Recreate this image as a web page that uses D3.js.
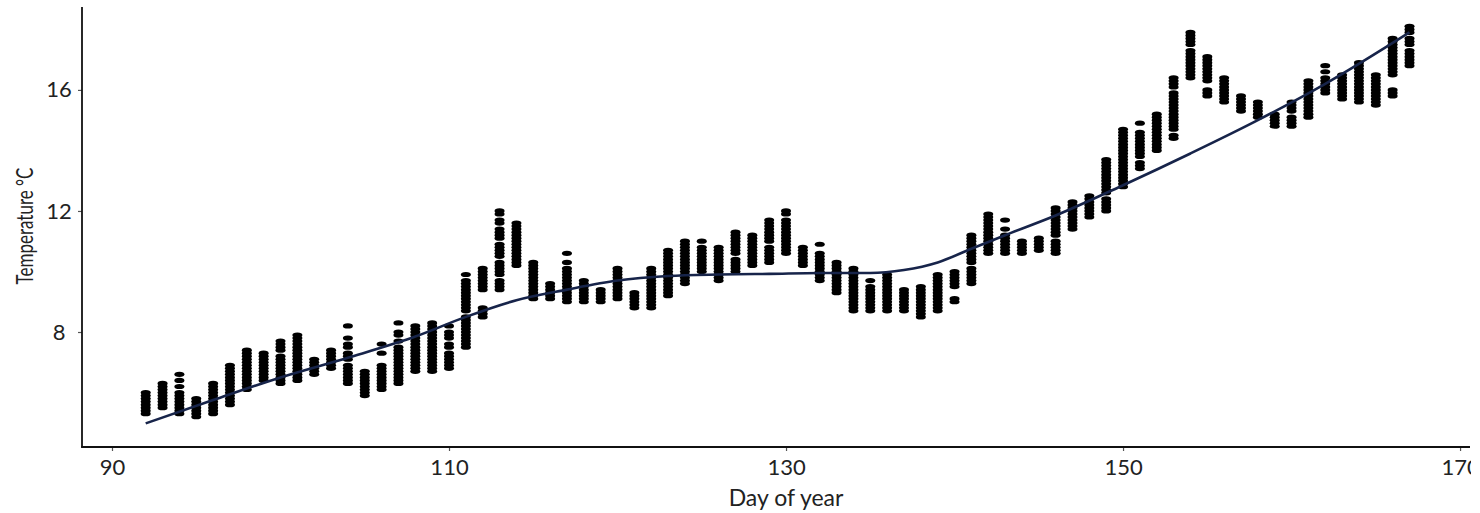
<!DOCTYPE html>
<html>
<head>
<meta charset="utf-8">
<script src="https://cdn.jsdelivr.net/npm/d3@7"></script>
<style>
  html, body { margin: 0; padding: 0; background: #fff; }
  svg { display: block; }
  text { font-family: Lato, "Liberation Sans", sans-serif; fill: #222; }
</style>
</head>
<body>
<svg id="chart" width="1480" height="513"></svg>
<script>
// Day of year for each logged day
const days = [92, 93, 94, 95, 96, 97, 98, 99, 100, 101, 102, 103, 104, 105, 106, 107, 108, 109,
  110, 111, 112, 113, 114, 115, 116, 117, 118, 119, 120, 121, 122, 123, 124, 125, 126, 127,
  128, 129, 130, 131, 132, 133, 134, 135, 136, 137, 138, 139, 140, 141, 142, 143, 144, 145,
  146, 147, 148, 149, 150, 151, 152, 153, 154, 155, 156, 157, 158, 159, 160, 161, 162, 163,
  164, 165, 166, 167];

// Temperatures logged on each day (0.1 °C logger resolution), as runs of consecutive readings [from, to]
const readingRuns = [
  [[5.3, 6.0]],
  [[5.5, 6.3]],
  [[5.3, 6.0], [6.2, 6.2], [6.4, 6.4], [6.6, 6.6]],
  [[5.2, 5.8]],
  [[5.3, 6.3]],
  [[5.6, 6.9]],
  [[6.1, 7.4]],
  [[6.4, 7.3]],
  [[6.3, 7.2], [7.4, 7.7]],
  [[6.4, 7.9]],
  [[6.6, 7.1]],
  [[6.8, 7.4]],
  [[6.3, 6.9], [7.1, 7.3], [7.5, 7.6], [7.8, 7.8], [8.2, 8.2]],
  [[5.9, 6.7]],
  [[6.1, 6.9], [7.3, 7.3], [7.6, 7.6]],
  [[6.3, 7.5], [7.7, 7.7], [7.9, 8.0], [8.3, 8.3]],
  [[6.7, 8.2]],
  [[6.7, 8.3]],
  [[6.8, 7.3], [7.5, 7.6], [7.8, 8.0], [8.2, 8.2]],
  [[7.5, 8.5], [8.7, 9.7], [9.9, 9.9]],
  [[8.5, 8.8], [9.4, 10.1]],
  [[9.4, 9.7], [9.9, 10.3], [10.5, 10.9], [11.1, 11.4], [11.6, 11.7], [11.9, 12.0]],
  [[10.2, 11.6]],
  [[9.1, 10.3]],
  [[9.1, 9.6]],
  [[9.0, 10.1], [10.3, 10.3], [10.6, 10.6]],
  [[9.0, 9.7]],
  [[9.0, 9.4]],
  [[9.1, 10.1]],
  [[8.8, 9.3]],
  [[8.8, 10.1]],
  [[9.2, 10.7]],
  [[9.6, 11.0]],
  [[10.0, 10.8], [11.0, 11.0]],
  [[9.7, 10.8]],
  [[10.0, 10.4], [10.6, 11.3]],
  [[10.2, 11.2]],
  [[10.3, 10.8], [11.0, 11.7]],
  [[10.6, 11.7], [11.9, 12.0]],
  [[10.2, 10.8]],
  [[9.7, 10.6], [10.9, 10.9]],
  [[9.3, 10.3]],
  [[8.7, 10.1]],
  [[8.7, 9.5], [9.7, 9.7]],
  [[8.7, 9.9]],
  [[8.7, 9.4]],
  [[8.5, 9.5]],
  [[8.7, 9.9]],
  [[9.0, 9.1], [9.5, 10.0]],
  [[9.6, 10.1], [10.3, 11.2]],
  [[10.6, 11.9]],
  [[10.6, 11.2], [11.4, 11.4], [11.7, 11.7]],
  [[10.6, 11.0]],
  [[10.7, 11.1]],
  [[10.6, 11.0], [11.2, 12.1]],
  [[11.4, 12.3]],
  [[11.8, 12.5]],
  [[12.0, 12.4], [12.6, 13.7]],
  [[12.8, 14.7]],
  [[13.4, 13.6], [13.8, 14.6], [14.9, 14.9]],
  [[14.0, 15.2]],
  [[14.4, 14.5], [14.7, 15.9], [16.1, 16.4]],
  [[16.4, 17.3], [17.5, 17.9]],
  [[15.8, 16.0], [16.3, 17.1]],
  [[15.6, 16.4]],
  [[15.3, 15.8]],
  [[15.1, 15.6]],
  [[14.8, 15.2]],
  [[14.8, 15.1], [15.3, 15.6]],
  [[15.1, 16.3]],
  [[15.9, 16.4], [16.6, 16.6], [16.8, 16.8]],
  [[15.7, 16.5]],
  [[15.6, 16.9]],
  [[15.5, 16.5]],
  [[15.8, 16.0], [16.5, 17.7]],
  [[16.8, 17.3], [17.5, 17.7], [17.9, 18.1]]
];

// Smoothed trend through the daily readings
const fitDays  = [92, 96, 100, 104, 108, 111, 114, 117, 120, 123, 126, 129, 132, 135, 137, 139, 141, 143, 146, 150, 154, 158, 162, 167];
const fitTemps = [4.98, 5.75, 6.5, 7.15, 7.85, 8.5, 9.05, 9.4, 9.7, 9.85, 9.9, 9.92, 9.95, 9.95, 10.05, 10.3, 10.75, 11.2, 11.85, 12.85, 13.9, 15.0, 16.2, 17.9];

const xTicks = [90, 110, 130, 150, 170];
const yTicks = [8, 12, 16];
const xTitle = "Day of year";
const yTitle = "Temperature \u00B0C";

const svg = d3.select("#chart");
const W = 1480, H = 513;
const padL = 82, padR = 1470, padT = 7, padB = 447;

const x = d3.scaleLinear().domain([88.22, 170.59]).range([padL, padR]);
const y = d3.scaleLinear().domain([4.2, 18.74]).range([padB, padT]);

// Everything beyond the right edge of the panel is cut away
svg.append("defs").append("clipPath").attr("id", "panelClip")
  .append("rect").attr("x", 0).attr("y", 0).attr("width", 1471).attr("height", H);

const g = svg.append("g").attr("clip-path", "url(#panelClip)");

// Expand each run into individual readings
const points = [];
days.forEach((d, i) => {
  readingRuns[i].forEach(([lo, hi]) => {
    for (let t = Math.round(lo * 10); t <= Math.round(hi * 10); t++) {
      points.push({ day: d, temp: t / 10 });
    }
  });
});

g.append("g").selectAll("ellipse")
  .data(points)
  .join("ellipse")
  .attr("cx", p => x(p.day))
  .attr("cy", p => y(p.temp))
  .attr("rx", 5)
  .attr("ry", 2.6)
  .attr("fill", "#000");

// Trend line
const line = d3.line()
  .x((d, i) => x(fitDays[i]))
  .y((d, i) => y(fitTemps[i]))
  .curve(d3.curveMonotoneX);

g.append("path")
  .datum(fitDays)
  .attr("d", line)
  .attr("fill", "none")
  .attr("stroke", "#17244a")
  .attr("stroke-width", 2.6);

// Axes
const xAxis = d3.axisBottom(x).tickValues(xTicks).tickSize(4).tickPadding(8).tickSizeOuter(0);
const yAxis = d3.axisLeft(y).tickValues(yTicks).tickSize(4).tickPadding(6).tickSizeOuter(0);

const gx = g.append("g").attr("transform", `translate(0,${padB})`).call(xAxis);
const gy = g.append("g").attr("transform", `translate(${padL},0)`).call(yAxis);

[gx, gy].forEach(a => {
  a.select(".domain").remove();
  a.selectAll(".tick line").attr("stroke", "#555").attr("stroke-width", 1.2);
  a.selectAll(".tick text").attr("fill", "#222").style("font-size", "22px");
});
gy.selectAll(".tick text").attr("text-anchor", "middle").attr("x", -23);

// Axis lines
g.append("line").attr("x1", padL).attr("x2", padL).attr("y1", padT).attr("y2", padB + 0.5)
  .attr("stroke", "#111").attr("stroke-width", 1.8);
g.append("line").attr("x1", padL - 0.9).attr("x2", padR).attr("y1", padB).attr("y2", padB)
  .attr("stroke", "#111").attr("stroke-width", 1.8);

// Titles
svg.append("text")
  .attr("x", x(130)).attr("y", 506)
  .attr("text-anchor", "middle")
  .style("font-size", "23px")
  .text(xTitle);

// Vertical title, widened across its glyphs to match the horizontal text weight
svg.append("text")
  .attr("transform", `translate(33,226) scale(1.4,1) rotate(-90)`)
  .attr("text-anchor", "middle")
  .style("font-size", "17px")
  .text(yTitle);
</script>
</body>
</html>
